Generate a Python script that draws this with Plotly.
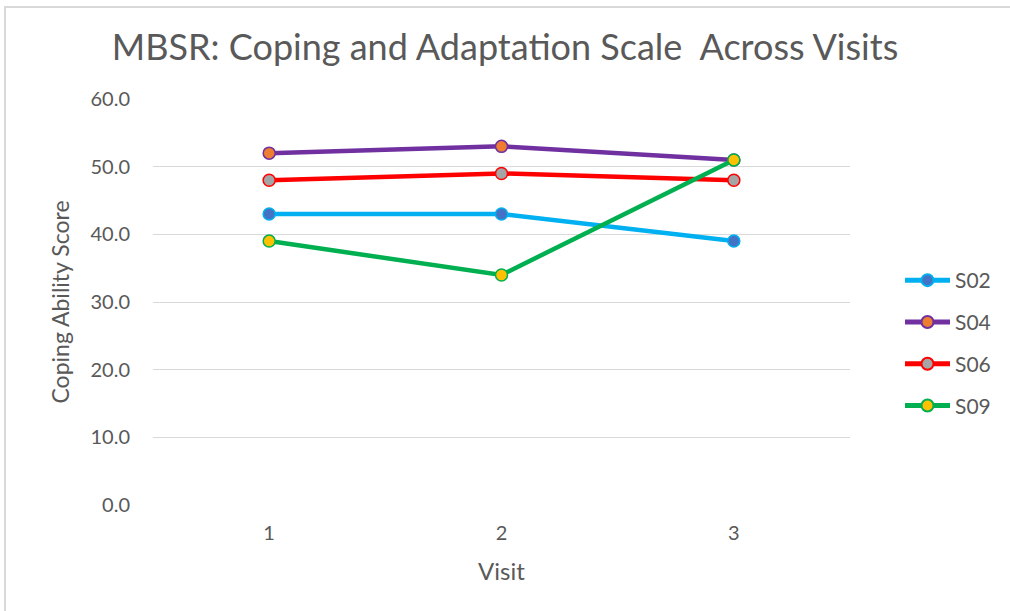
import plotly.graph_objects as go

visits = ["1", "2", "3"]
series_names = ["S02", "S04", "S06", "S09"]
s02 = [43, 43, 39]
s04 = [52, 53, 51]
s06 = [48, 49, 48]
s09 = [39, 34, 51]
y_ticks = [0, 10, 20, 30, 40, 50, 60]

line_colors = ["#00b0f0", "#7030a0", "#ff0000", "#00b050"]
marker_fills = ["#4472c4", "#ed7d31", "#a5a5a5", "#ffc000"]

FONT = "Lato, Carlito, Calibri, sans-serif"
GREY = "#595959"

fig = go.Figure()
for name, vals, lc, mf in zip(series_names, [s02, s04, s06, s09], line_colors, marker_fills):
    fig.add_trace(go.Scatter(
        x=visits, y=vals, name=name, mode="lines+markers", legendgroup=name,
        line=dict(color=lc, width=4.5),
        marker=dict(size=12, color=mf, line=dict(color=lc, width=1.5)),
    ))

L, R, T, B = 153, 160, 99, 106
W, H = 1010, 611
pw, ph = W - L - R, H - T - B

def px_x(x):
    return (x - L) / pw

def px_y(y):
    return (H - B - y) / ph

fig.update_layout(
    width=W, height=H,
    margin=dict(l=L, r=R, t=T, b=B),
    paper_bgcolor="white", plot_bgcolor="white",
    font=dict(family=FONT, color=GREY, size=20),
    title=dict(text="MBSR: Coping and Adaptation Scale  Across Visits",
               x=0.5, xanchor="center", y=1 - 47 / H, yanchor="middle",
               font=dict(size=36, color=GREY, family=FONT)),
    xaxis=dict(type="category", range=[-0.5, 2.5], showgrid=False, zeroline=False,
               showline=False, ticks="", tickfont=dict(size=20, color=GREY),
               ticklabelstandoff=14,
               title=dict(text="Visit", font=dict(size=24, color=GREY), standoff=20)),
    yaxis=dict(range=[0, 60], tickvals=y_ticks, ticktext=[f"{v:.1f}" for v in y_ticks],
               showgrid=True, gridcolor="#d9d9d9", gridwidth=1.3, zeroline=False,
               showline=False, ticks="", tickfont=dict(size=20, color=GREY),
               ticklabelstandoff=22,
               title=dict(text="Coping Ability Score", font=dict(size=23, color=GREY), standoff=14)),
    legend=dict(x=px_x(900), xanchor="left", y=px_y(260), yanchor="top",
                font=dict(size=21, color=GREY), tracegroupgap=11.5, itemwidth=45,
                bgcolor="rgba(0,0,0,0)", itemsizing="constant"),
    showlegend=True,
)

# outer frame lines (left and top)
fig.add_shape(type="line", xref="paper", yref="paper",
              x0=px_x(4), x1=px_x(1012), y0=px_y(7), y1=px_y(7),
              line=dict(color="#d9d9d9", width=2))
fig.add_shape(type="line", xref="paper", yref="paper",
              x0=px_x(5), x1=px_x(5), y0=px_y(6), y1=px_y(613),
              line=dict(color="#d9d9d9", width=2))

fig.write_html("out.html", config={"displayModeBar": False},
               post_script="document.body.style.margin='0';document.body.style.padding='0';")
